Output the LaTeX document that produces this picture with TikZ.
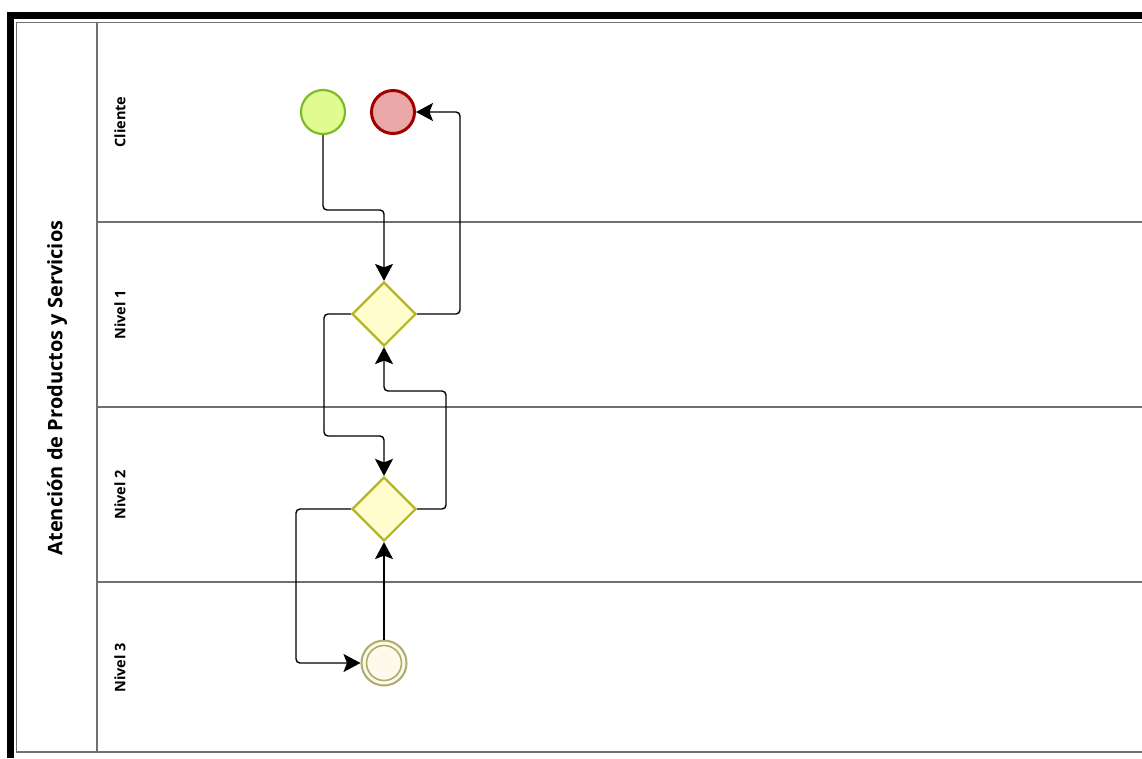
\documentclass[tikz,border=0pt]{standalone}
\usepackage{fontspec}
\setmainfont{Open Sans}
\usetikzlibrary{shapes.geometric,arrows.meta}
\definecolor{startfill}{HTML}{E0FC90}
\definecolor{startline}{HTML}{7DB928}
\definecolor{endfill}{HTML}{EBA8A8}
\definecolor{endline}{HTML}{A00000}
\definecolor{gwfill}{HTML}{FFFDCC}
\definecolor{gwline}{HTML}{B4B428}
\definecolor{midfill}{HTML}{FDF9EB}
\definecolor{midline}{HTML}{AFAA6E}
\definecolor{lanegray}{HTML}{707070}
\tikzset{
  lane/.style={draw=lanegray,line width=1.3pt},
  lanelabel/.style={rotate=90,font=\bfseries\fontsize{14.5}{17}\selectfont},
  startev/.style={circle,draw=startline,fill=startfill,line width=2.2pt,minimum size=44pt,inner sep=0pt},
  endev/.style={circle,draw=endline,fill=endfill,line width=3pt,minimum size=43pt,inner sep=0pt},
  gateway/.style={diamond,aspect=1,draw=gwline,fill=gwfill,line width=2.2pt,minimum width=64pt,minimum height=64pt,inner sep=0pt},
  midev/.style={circle,draw=midline,fill=midfill,line width=2pt,minimum size=45pt,inner sep=0pt},
  flow/.style={draw=black,line width=1.4pt,-{Stealth[length=17pt,width=18pt,inset=3.5pt,sharp,fill=black]}}
}
\begin{document}
\begin{tikzpicture}[x=1pt,y=1pt]
\useasboundingbox[fill=white] (0,0) rectangle (1142,-758);
% black frame
\draw[line width=7pt] (10.5,-758) -- (10.5,-15) -- (1142,-15);
% pool outline
\draw[lane] (1142,-22.5) -- (16.5,-22.5) -- (16.5,-752) -- (1142,-752);
\draw[lane] (97,-22.5) -- (97,-752);
% lane separators
\draw[lane] (97,-222) -- (1142,-222);
\draw[lane] (97,-407) -- (1142,-407);
\draw[lane] (97,-582) -- (1142,-582);
% labels
\node[rotate=90,font=\bfseries\fontsize{20}{24}\selectfont] (pool) at (57,-388) {Atención de Productos y Servicios};
\node[lanelabel] (l1) at (120,-122) {Cliente};
\node[lanelabel] (l2) at (120,-315) {Nivel 1};
\node[lanelabel] (l3) at (120,-495) {Nivel 2};
\node[lanelabel] (l4) at (120,-668) {Nivel 3};
% nodes
\node[startev] (start) at (323,-112) {};
\node[endev] (end) at (393,-112) {};
\node[gateway] (g1) at (384,-314) {};
\node[gateway] (g2) at (384,-509) {};
\node[midev] (mid) at (384,-663) {};
\draw[midline,line width=1.6pt] (mid.center) circle (17.5pt);
% connectors
\draw[flow] (start.south) [rounded corners=4pt] |- (g1.north |- 0,-210) [sharp corners] -- (g1.north);
\draw[flow] (g1.east) [rounded corners=4pt] -| (460,-112) [sharp corners] -- (end.east);
\draw[flow] (g1.west) [rounded corners=4pt] -| (324,-436) -- (g2.north |- 0,-436) [sharp corners] -- (g2.north);
\draw[flow] (g2.east) [rounded corners=4pt] -| (446,-391) -- (g1.south |- 0,-391) [sharp corners] -- (g1.south);
\draw[flow] (g2.west) [rounded corners=4pt] -| (296,-663) [sharp corners] -- (mid.west);
\draw[flow] (mid.north) -- (g2.south);
\end{tikzpicture}
\end{document}
